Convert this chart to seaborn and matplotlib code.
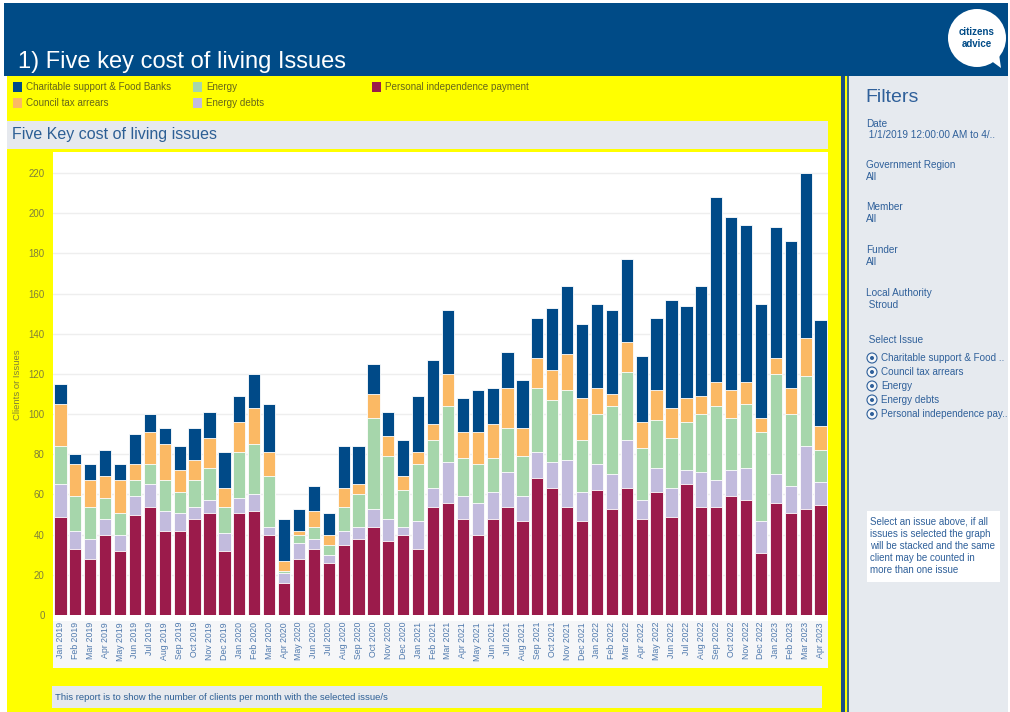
import numpy as np
import pandas as pd
import matplotlib
matplotlib.use("Agg")
import matplotlib.pyplot as plt
from matplotlib.patches import Rectangle, Ellipse, Polygon
import seaborn as sns

# monthly counts per issue (clients), Jan 2019 - Apr 2023
months = pd.date_range("2019-01-01", periods=52, freq="MS").strftime("%b %Y").tolist()

pip_vals = [49, 33, 28, 40, 32, 50, 54, 42, 42, 48, 51, 32,
            51, 52, 40, 16, 28, 33, 26, 35, 38, 44, 37, 40,
            33, 54, 56, 48, 40, 48, 54, 47, 68, 63, 54, 47,
            62, 53, 63, 48, 61, 49, 65, 54, 54, 59, 57, 31,
            56, 51, 53, 55]
energy_debts = [16, 9, 10, 8, 8, 9, 11, 10, 9, 6, 6, 9,
                7, 8, 4, 5, 8, 5, 4, 7, 6, 9, 11, 4,
                14, 9, 20, 11, 16, 13, 17, 12, 13, 13, 23, 14,
                13, 17, 24, 9, 12, 14, 7, 17, 13, 13, 16, 16,
                14, 13, 31, 11]
energy = [19, 17, 16, 10, 11, 8, 10, 15, 10, 13, 16, 13,
          23, 25, 25, 1, 4, 6, 5, 12, 16, 45, 31, 18,
          28, 24, 28, 19, 19, 17, 22, 20, 32, 31, 35, 26,
          25, 34, 34, 26, 24, 25, 24, 29, 37, 26, 32, 44,
          50, 36, 35, 16]
council_tax = [21, 16, 13, 11, 16, 8, 16, 18, 11, 10, 15, 9,
               15, 18, 12, 5, 2, 8, 5, 9, 5, 12, 10, 7,
               6, 8, 16, 13, 16, 17, 20, 14, 15, 15, 18, 21,
               13, 6, 15, 13, 15, 15, 12, 9, 12, 14, 11, 7,
               8, 13, 19, 12]
charitable = [10, 5, 8, 13, 8, 15, 9, 8, 12, 16, 13, 18,
              13, 17, 24, 21, 11, 12, 11, 21, 19, 15, 12, 18,
              28, 32, 32, 17, 21, 18, 18, 24, 20, 31, 34, 37,
              42, 42, 41, 33, 36, 54, 46, 55, 92, 86, 78, 57,
              65, 73, 82, 53]

series_names = ["Personal independence payment", "Energy debts", "Energy",
                "Council tax arrears", "Charitable support & Food Banks"]
series_vals = [pip_vals, energy_debts, energy, council_tax, charitable]
colors = ["#9b1b4b", "#c2bbdd", "#a6d6ab", "#fbb964", "#004a88"]

W, H = 1010, 712
def fx(x):
    return x / W
def fy(y):
    return 1 - y / H

sns.set_style("white")
plt.rcParams["font.family"] = ["Liberation Sans", "DejaVu Sans"]

fig = plt.figure(figsize=(W / 100, H / 100), dpi=100, facecolor="white")

def box(x0, y0, x1, y1, color, z=-5):
    fig.add_artist(Rectangle((fx(x0), fy(y1)), fx(x1) - fx(x0), fy(y0) - fy(y1),
                             transform=fig.transFigure, facecolor=color,
                             edgecolor="none", zorder=z))

# page furniture
box(4, 3, 1008, 76, "#004b87")
box(7, 76, 849, 712, "#ffff00")
box(841, 76, 844.5, 712, "#1d4f86")
box(847, 76, 848.5, 712, "#3b6a8c")
box(849, 76, 1008, 712, "#e6eaef")
box(7, 121, 828, 149, "#e6e9ee")
box(53, 152, 828, 621, "white")
box(53, 621, 828, 668, "#f5f6f8")
box(52, 686, 822, 708, "#e6e9ee")
box(867, 511, 1000, 582, "white")

fig.text(fx(18), fy(62), "1) Five key cost of living Issues", color="white",
         fontsize=17, va="center", ha="left")

# logo
fig.add_artist(Ellipse((fx(977), fy(38)), 58 / W, 58 / H, transform=fig.transFigure,
                       facecolor="white", edgecolor="none", zorder=2))
fig.add_artist(Polygon([(fx(990), fy(60)), (fx(1001), fy(68)), (fx(999), fy(54))],
                       closed=True, transform=fig.transFigure,
                       facecolor="white", edgecolor="none", zorder=2))
fig.text(fx(977), fy(32), "citizens", color="#004b87", fontsize=7, fontweight="bold",
         ha="center", va="center", zorder=3)
fig.text(fx(977), fy(44), "advice", color="#004b87", fontsize=7, fontweight="bold",
         ha="center", va="center", zorder=3)

# legend
legend_pos = [(10, 87, 4), (10, 103, 3), (190, 87, 2), (190, 103, 1), (369, 87, 0)]
for lx, ly, i in legend_pos:
    box(lx + 3, ly - 5, lx + 12, ly + 5, colors[i], z=1)
    fig.text(fx(lx + 16), fy(ly), series_names[i], color="#66661a", fontsize=7.1,
             va="center", ha="left")

fig.text(fx(12), fy(135), "Five Key cost of living issues", color="#2d5f95",
         fontsize=11.5, va="center", ha="left")

# chart
ax = fig.add_axes([fx(53), fy(615), (828 - 53) / W, (615 - 163) / H])
ax.set_facecolor("none")
df = pd.DataFrame({"month": months})
cum = np.cumsum(np.array(series_vals), axis=0)
for k in range(len(series_vals) - 1, -1, -1):
    df["top"] = cum[k]
    sns.barplot(data=df, x="month", y="top", color=colors[k], saturation=1,
                width=0.82, edgecolor="white", linewidth=0.6, ax=ax, errorbar=None)

ax.set_xlim(-0.5, len(months) - 0.5)
ax.set_ylim(0, 225)
ax.set_yticks(np.arange(0, 221, 20))
ax.yaxis.grid(True, color="#eeeeee", linewidth=1)
ax.set_axisbelow(True)
for s in ax.spines.values():
    s.set_visible(False)
ax.set_xlabel("")
ax.set_ylabel("")
ax.tick_params(axis="y", length=0, pad=6, labelsize=7, labelcolor="#80803a")
ax.tick_params(axis="x", length=0, pad=5, labelsize=6.3, labelcolor="#4f79ad",
               labelrotation=90)

fig.text(fx(18), fy(385), "Clients or Issues", color="#80803a", fontsize=6.8,
         rotation=90, ha="center", va="center")

fig.text(fx(55), fy(697), "This report is to show the number of clients per month with the selected issue/s",
         color="#2d5f95", fontsize=6.8, va="center", ha="left")

# filter panel
blue_txt = "#2f609a"
fig.text(fx(865), fy(97), "Filters", color=blue_txt, fontsize=14, va="center", ha="left")
filter_rows = [(124, "Date"), (135, " 1/1/2019 12:00:00 AM to 4/.."),
               (165, "Government Region"), (177, "All"),
               (207, "Member"), (219, "All"),
               (250, "Funder"), (262, "All"),
               (293, "Local Authority"), (305, " Stroud"),
               (340, " Select Issue")]
for yy, t in filter_rows:
    fig.text(fx(866), fy(yy), t, color=blue_txt, fontsize=7.2, va="center", ha="left")

radio_items = ["Charitable support & Food ..", "Council tax arrears", "Energy",
               "Energy debts", "Personal independence pay.."]
radio_y = [358, 372, 386, 400, 414]
for yy, t in zip(radio_y, radio_items):
    fig.add_artist(Ellipse((fx(872), fy(yy)), 10 / W, 10 / H, transform=fig.transFigure,
                           facecolor="#f4f6f9", edgecolor=blue_txt, linewidth=0.8, zorder=2))
    fig.add_artist(Ellipse((fx(872), fy(yy)), 4 / W, 4 / H, transform=fig.transFigure,
                           facecolor=blue_txt, edgecolor="none", zorder=3))
    fig.text(fx(881), fy(yy), t, color=blue_txt, fontsize=7.1, va="center", ha="left")

note_lines = ["Select an issue above, if all", "issues is selected the graph",
              "will be stacked and the same", "client may be counted in",
              "more than one issue"]
for i, t in enumerate(note_lines):
    fig.text(fx(870), fy(522 + 12 * i), t, color=blue_txt, fontsize=7,
             va="center", ha="left")

plt.savefig("out.png", dpi=100)
